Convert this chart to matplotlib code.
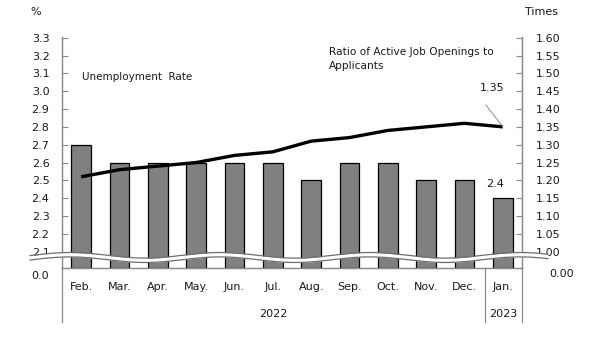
import matplotlib
matplotlib.use("Agg")
import matplotlib.pyplot as plt
from matplotlib.lines import Line2D
import numpy as np

# Monthly figures, Feb 2022 - Jan 2023
months = ["Feb.", "Mar.", "Apr.", "May.", "Jun.", "Jul.", "Aug.", "Sep.",
          "Oct.", "Nov.", "Dec.", "Jan."]
unemployment = [2.7, 2.6, 2.6, 2.6, 2.6, 2.6, 2.5, 2.6, 2.6, 2.5, 2.5, 2.4]
job_ratio = [1.21, 1.23, 1.24, 1.25, 1.27, 1.28, 1.31, 1.32, 1.34, 1.35, 1.36, 1.35]
left_ticks = [2.1, 2.2, 2.3, 2.4, 2.5, 2.6, 2.7, 2.8, 2.9, 3.0, 3.1, 3.2, 3.3]
right_ticks = [1.00, 1.05, 1.10, 1.15, 1.20, 1.25, 1.30, 1.35, 1.40, 1.45, 1.50, 1.55, 1.60]

plt.rcParams["font.family"] = "DejaVu Sans"
plt.rcParams["font.size"] = 8
W, H = 605, 340
grey = "#8a8a8a"
txt = "#1a1a1a"

fig = plt.figure(figsize=(W / 100, H / 100), dpi=100)
# plot area in pixels: x 62..522, y 37..268
ax = fig.add_axes([62 / W, 1 - 268 / H, 460 / W, 231 / H])
ax2 = ax.twinx()

# bottom of the broken axis sits a little below 2.1
y_lo, y_hi = 2.0086, 3.304
ax.set_ylim(y_lo, y_hi)
ax2.set_ylim(1.0 + (y_lo - 2.1) * 0.5, 1.0 + (y_hi - 2.1) * 0.5)
ax.set_xlim(-0.5, len(months) - 0.5)

x = np.arange(len(months))
ax.bar(x, np.array(unemployment) - y_lo, bottom=y_lo, width=0.52,
       color="#808080", edgecolor="black", linewidth=0.9, zorder=2)
ax2.plot(x, job_ratio, color="black", linewidth=2.4, solid_capstyle="butt", zorder=3)

for a in (ax, ax2):
    a.spines["top"].set_visible(False)
    for s in ("left", "right", "bottom"):
        a.spines[s].set_color(grey)
        a.spines[s].set_linewidth(0.9)
    a.set_xticks([])

ax.set_yticks(left_ticks)
ax.set_yticklabels([f"{v:.1f}" for v in left_ticks])
ax.tick_params(axis="y", direction="in", length=4, color=grey, labelcolor=txt, pad=9)
ax2.set_yticks(right_ticks)
ax2.set_yticklabels([f"{v:.2f}" for v in right_ticks])
ax2.tick_params(axis="y", direction="in", length=4, color=grey, labelcolor=txt, pad=10)


def fx(px):
    return px / W


def fy(py):
    return 1 - py / H


# axis units and zero labels below the break
fig.text(fx(30), fy(12), "%", ha="left", va="center", color=txt)
fig.text(fx(525), fy(12), "Times", ha="left", va="center", color=txt)
fig.text(fx(49), fy(276), "0.0", ha="right", va="center", color=txt)
fig.text(fx(549), fy(274), "0.00", ha="left", va="center", color=txt)

# wavy break across both axes
wx = np.linspace(30, 548, 400)
wc = 257.5 - 2.8 * np.cos(2 * np.pi * (wx - 70) / 150)
top = fy(wc - 2.2)
bot = fy(wc + 2.2)
ax2.fill_between(fx(wx), bot, top, color="white", transform=fig.transFigure,
                 clip_on=False, zorder=10, linewidth=0)
ax2.plot(fx(wx), top, color="#6e6e6e", lw=0.9, transform=fig.transFigure, clip_on=False, zorder=11)
ax2.plot(fx(wx), bot, color="#6e6e6e", lw=0.9, transform=fig.transFigure, clip_on=False, zorder=11)

# category axis: months, years and separators
for i, m in enumerate(months):
    ax.annotate(m, xy=(i, 0), xycoords=("data", "axes fraction"),
                xytext=(0, -13.5), textcoords="offset points", ha="center", va="center",
                color=txt, annotation_clip=False)
ax.annotate("2022", xy=(5, 0), xycoords=("data", "axes fraction"), xytext=(0, -32.8),
            textcoords="offset points", ha="center", va="center", color=txt, annotation_clip=False)
ax.annotate("2023", xy=(11, 0), xycoords=("data", "axes fraction"), xytext=(0, -32.8),
            textcoords="offset points", ha="center", va="center", color=txt, annotation_clip=False)
for px in (62, 485, 522):
    fig.add_artist(Line2D([fx(px), fx(px)], [fy(268), fy(322)], color=grey, lw=0.9))

# series names and end-point labels
fig.text(fx(82), fy(77), "Unemployment  Rate", ha="left", va="center", color=txt, fontsize=7.5)
fig.text(fx(329), fy(47), "Ratio of Active Job Openings to\nApplicants", ha="left",
         va="top", color=txt, linespacing=1.45, fontsize=7.6)
ax.annotate(f"{unemployment[-1]:.1f}", xy=(11, unemployment[-1]), xytext=(-5.5, 10),
            textcoords="offset points", ha="center", va="center", color=txt)
ax2.annotate(f"{job_ratio[-1]:.2f}", xy=(11, job_ratio[-1]), xytext=(-8, 28),
             textcoords="offset points", ha="center", va="center", color=txt)
ax2.annotate("", xy=(11, job_ratio[-1]), xytext=(-12.2, 15.8), textcoords="offset points",
             arrowprops=dict(arrowstyle="-", color=grey, lw=0.7, shrinkA=0, shrinkB=0))

fig.savefig("out.png", dpi=100)
